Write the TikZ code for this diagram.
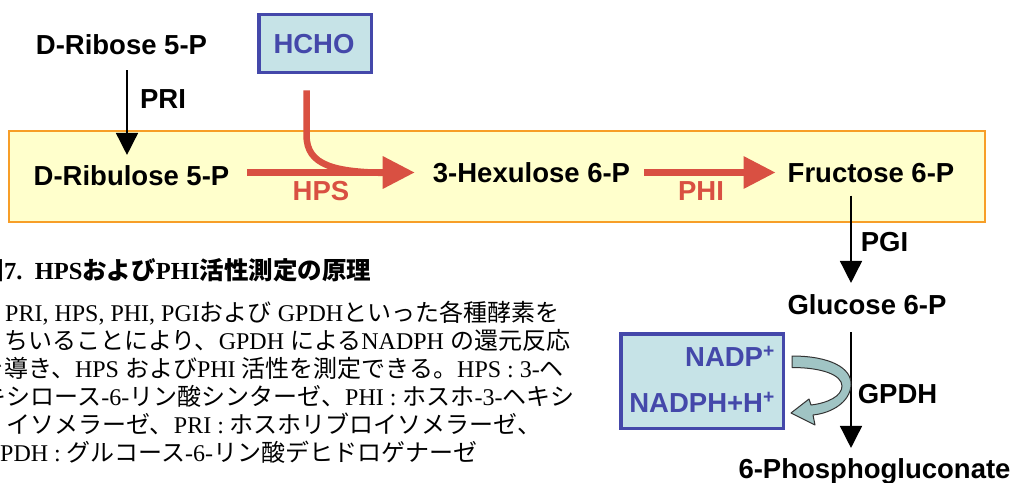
\documentclass[tikz,border=0pt]{standalone}
\usepackage{fontspec}
\setmainfont{Liberation Serif}
\newfontfamily\hv{Liberation Sans}
\newfontfamily\jp{Noto Sans CJK JP}
\usetikzlibrary{arrows.meta}
\definecolor{ribbonfill}{RGB}{255,255,204}
\definecolor{ribbonedge}{RGB}{247,158,40}
\definecolor{enzred}{RGB}{217,80,66}
\definecolor{cofblue}{RGB}{68,72,170}
\definecolor{coffill}{RGB}{198,227,231}
\definecolor{swooshfill}{RGB}{160,196,196}
\newcommand{\J}[1]{{\jp #1}}
\begin{document}
\begin{tikzpicture}[x=1pt,y=-1pt,
  met/.style={font=\hv\bfseries\fontsize{27.5}{30}\selectfont, inner sep=0pt, text height=19.7pt, text depth=0pt},
  redlbl/.style={met, text=enzred},
  cofbox/.style={draw=cofblue, line width=3.5pt, fill=coffill, inner sep=0pt},
  coftext/.style={met, text=cofblue},
  blk/.style={line width=1.5pt, -{Triangle[width=22pt,length=22pt]}},
  redarr/.style={draw=enzred, line width=6.5pt, -{Triangle[width=31pt,length=32pt]}},
  redflow/.style={draw=enzred, line width=6.5pt},
  captext/.style={anchor=base west, inner sep=0pt, font=\fontsize{24}{28}\selectfont},
]
\useasboundingbox (0,0) rectangle (1017,482);
\clip (0,0) rectangle (1017,482);

% yellow band
\draw[draw=ribbonedge, line width=2pt, fill=ribbonfill] (9,131) rectangle (985,222);

% metabolites
\node[met] (ribose)   at (121.5,45) {D-Ribose 5-P};
\node[met] (ribulose) at (131.5,176) {D-Ribulose 5-P};
\node[met] (hexulose) at (531.5,172.5) {3-Hexulose 6-P};
\node[met] (fructose) at (871,172.5) {Fructose 6-P};
\node[met] (glucose)  at (867,305) {Glucose 6-P};
\node[met] (phospho)  at (874.5,469) {6-Phosphogluconate};

% enzyme labels
\node[met] (pri)  at (163,99) {PRI};
\node[redlbl] (hps) at (321,191) {HPS};
\node[redlbl] (phi) at (701,191) {PHI};
\node[met] (pgi)  at (884.5,242) {PGI};
\node[met] (gpdh) at (897.5,394) {GPDH};

% cofactor boxes
\node[cofbox, minimum width=112.5pt, minimum height=58pt] (hcho) at (315,43.5) {};
\node[coftext] (hchotext) at (314,44) {HCHO};
\node[cofbox, minimum width=162.5pt, minimum height=94.5pt] (nadbox) at (702,381) {};
\node[coftext, anchor=east] (nadp)  at (775,357) {NADP\textsuperscript{+}};
\node[coftext, anchor=east] (nadph) at (775,403) {NADPH+H\textsuperscript{+}};

% vertical axes and merge point
\coordinate (axis) at (851,0);
\coordinate (priaxis) at (127,0);
\coordinate (merge) at (388,173);

% black arrows
\draw[blk, shorten <=15pt, shorten >=11pt] (ribose.south -| priaxis) -- (ribulose.north -| priaxis);
\draw[blk, shorten <=13pt, shorten >=12pt] (fructose.south -| axis) -- (glucose.north -| axis);
\draw[blk, shorten <=17pt, shorten >=11pt] (glucose.south -| axis) -- (phospho.north -| axis);

% red arrows
\draw[redflow] ([xshift=-8.5pt,yshift=-16pt]hcho.south) -- (306.5,135) .. controls (306.5,166) and (335,172) .. (merge);
\draw[redarr, shorten <=18pt, shorten >=18pt] (ribulose.east |- hexulose.west) -- (hexulose.west);
\draw[redarr, shorten <=14pt, shorten >=12pt] (hexulose.east) -- (fructose.west);

% swoosh arrow (NADP+ -> NADPH)
\draw[line width=1pt, draw=black!80, fill=swooshfill, line join=round]
  (792,356) .. controls (830,356) and (852,368) .. (851,385)
  .. controls (850,402) and (832,413) .. (813,415)
  -- (815,425) -- (791,413) -- (809,399) -- (811,405)
  .. controls (828,403) and (842,396) .. (842,386)
  .. controls (842,375) and (822,367.5) .. (792,367.5) -- cycle;

% caption
\node[captext, font=\bfseries\fontsize{24.5}{28}\selectfont] (cap1) at (-20.5,279) {\J{図}7.\ \ HPS\J{および}PHI\J{活性測定の原理}};
\node[captext] (cap2) at (5,321) {PRI, HPS, PHI, PGI\J{および} GPDH\J{といった各種酵素を}};
\node[captext] (cap3) at (4,349) {\J{ちいることにより、}GPDH \J{による}NADPH \J{の還元反応}};
\node[captext] (cap4) at (-19.5,377) {\J{を導き、}HPS \J{および}PHI \J{活性を測定できる。}HPS : 3-\J{ヘ}};
\node[captext] (cap5) at (-17.5,405) {\J{キシロース}-6-\J{リン酸シンターゼ、}PHI : \J{ホスホ}-3-\J{ヘキシ}};
\node[captext] (cap6) at (6,433) {\J{イソメラーゼ、}PRI : \J{ホスホリブロイソメラーゼ、}};
\node[captext] (cap7) at (-17.3,461) {GPDH : \J{グルコース}-6-\J{リン酸デヒドロゲナーゼ}};
\end{tikzpicture}
\end{document}
